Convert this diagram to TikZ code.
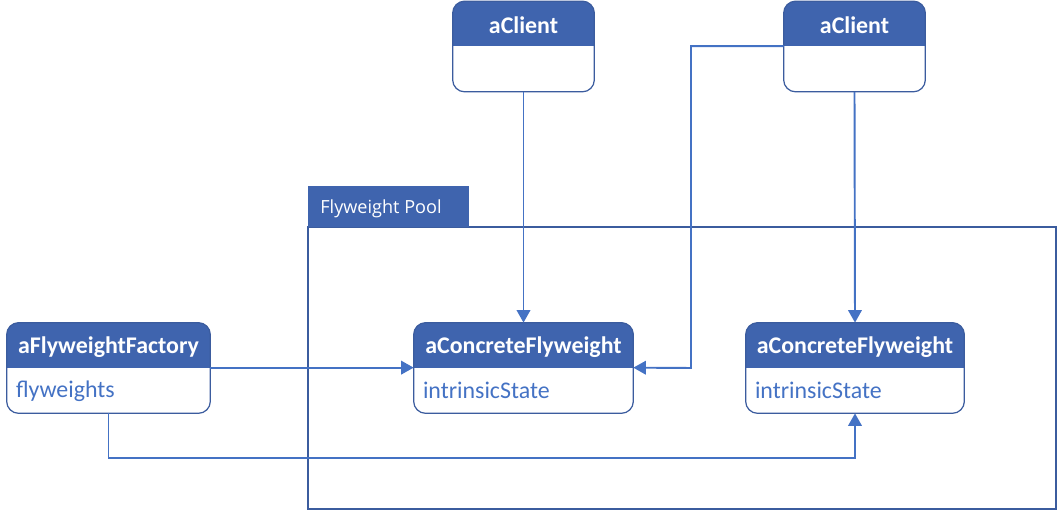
\documentclass[tikz,border=0pt]{standalone}
\usepackage{fontspec}
\setmainfont{Carlito}
\newfontfamily\poolfont{Open Sans}
\usetikzlibrary{arrows.meta,calc}

\definecolor{hdrblue}{HTML}{3F64AE}
\definecolor{lineblue}{HTML}{4472C4}
\definecolor{edgeblue}{HTML}{3B5C9E}

\tikzset{
  objframe/.style={draw=edgeblue, line width=0.7pt, rounded corners=0.24cm},
  objtitle/.style={text=white, inner sep=0pt, font=\bfseries\fontsize{13.6}{16}\selectfont},
  objfield/.style={text=lineblue, inner sep=0pt, anchor=west, font=\fontsize{13.6}{16}\selectfont},
  pooltab/.style={fill=hdrblue, inner sep=0pt},
  tabtext/.style={text=white, inner sep=0pt, font=\poolfont\fontsize{10.3}{12}\selectfont},
  poolframe/.style={draw=edgeblue, line width=0.7pt},
  link/.style={draw=lineblue, line width=1.1pt},
  linkarrow/.style={link, -{Triangle[length=0.25cm,width=0.27cm]}}
}

% object box: name, centre, width, title, field
\newcommand{\umlobject}[5]{%
  \node[minimum width=#3, minimum height=1.8cm, inner sep=0pt] (#1) at (#2) {};
  \begin{scope}
    \clip[rounded corners=0.24cm] (#1.south west) rectangle (#1.north east);
    \fill[hdrblue] (#1.north west) rectangle ($(#1.north east)+(0,-0.9)$);
  \end{scope}
  \draw[objframe] (#1.south west) rectangle (#1.north east);
  \coordinate (#1-w) at ($(#1.north west)+(0,-0.9)$);
  \coordinate (#1-e) at ($(#1.north east)+(0,-0.9)$);
  \node[objtitle] (#1-title) at ($(#1.north)+(0,-0.49)$) {#4};
  \node[objfield] (#1-field) at ($(#1.south west)+(0.18,0.45)$) {#5};
}

\begin{document}
\begin{tikzpicture}
\useasboundingbox (0,0) rectangle (21.18,10.22);

% pool
\draw[poolframe] (6.16,0.04) rectangle (21.12,5.68);
\node[pooltab, anchor=south west, minimum width=3.22cm, minimum height=0.82cm] (tab) at (6.16,5.68) {};
\node[tabtext, anchor=west] (tablabel) at ($(tab.west)+(0.24,-0.05)$) {Flyweight Pool};

% objects
\umlobject{cl1}{10.47,9.29}{2.82cm}{aClient}{}
\umlobject{cl2}{17.09,9.29}{2.82cm}{aClient}{}
\umlobject{fac}{2.17,2.86}{4.06cm}{aFlyweightFactory}{flyweights}
\umlobject{cf1}{10.47,2.86}{4.38cm}{aConcreteFlyweight}{intrinsicState}
\umlobject{cf2}{17.10,2.86}{4.36cm}{aConcreteFlyweight}{intrinsicState}

% links
\coordinate (elbow) at (13.82,2.86);
\coordinate (under) at (17.10,1.06);
\draw[linkarrow] (cl1.south) -- (cf1.north);
\draw[linkarrow] (cl2.south) -- (cf2.north);
\draw[linkarrow] (cl2-w) -| (elbow) -- (cf1-e);
\draw[linkarrow] (fac-e) -- (cf1-w);
\draw[linkarrow] (fac.south) |- (under) -- (cf2.south);

\end{tikzpicture}
\end{document}
